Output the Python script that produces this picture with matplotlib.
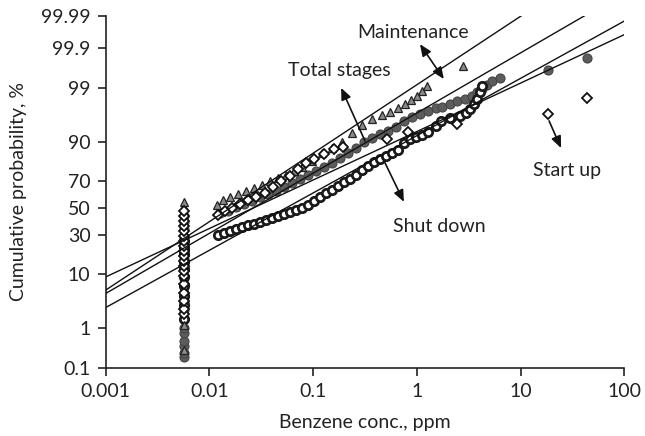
import numpy as np
import matplotlib
matplotlib.use('Agg')
import matplotlib.pyplot as plt
from statistics import NormalDist

plt.rcParams['font.family'] = ['Lato', 'DejaVu Sans']

# concentration used for the non-detects (stacked column)
nd_conc = 0.0057

# Maintenance (triangles)
maint_x = [0.0118, 0.0135, 0.0158, 0.0188, 0.0225, 0.0268, 0.032, 0.0383, 0.0457, 0.0546,
           0.0652, 0.0778, 0.0972, 0.121, 0.151, 0.189, 0.236, 0.295, 0.368, 0.459,
           0.548, 0.655, 0.764, 0.873, 1.0, 1.12, 1.25, 2.77]
maint_p = [52.3, 56.2, 58.4, 60.7, 62.9, 65.1, 67.2, 69.9, 71.9, 73.8,
           76.3, 78.6, 81.8, 85.6, 87.7, 89.9, 92.6, 94.6, 95.7, 96.4,
           96.8, 97.3, 97.8, 98.2, 98.5, 98.8, 99.09, 99.70]
maint_nd_p = [0.3, 1.2, 50.5, 54.5]

# Total stages (grey circles)
total_x = [0.0126, 0.0151, 0.018, 0.0215, 0.0257, 0.0307, 0.0366, 0.0437, 0.0522, 0.0623,
           0.0744, 0.0889, 0.106, 0.127, 0.151, 0.181, 0.216, 0.258, 0.308, 0.368,
           0.439, 0.524, 0.626, 0.748, 0.893, 1.07, 1.27, 1.52, 1.74, 2.08,
           2.42, 2.89, 3.38, 3.78, 4.22, 4.71, 5.27, 6.29, 18.2, 43.4]
total_p = [46.1, 47.7, 50.8, 53.1, 55.4, 58.4, 60.7, 62.9, 65.8, 68.6,
           71.3, 73.8, 76.3, 78.6, 80.8, 83.3, 85.6, 87.7, 89.9, 91.2,
           92.4, 93.2, 94.1, 95.4, 96.1, 96.5, 97.0, 97.3, 97.5, 97.8,
           98.1, 98.25, 98.5, 98.76, 98.93, 99.13, 99.30, 99.40, 99.62, 99.81]
total_nd_p = [0.2, 0.25, 0.38, 0.5, 0.78, 1.0, 1.6, 2.4, 3.5, 5, 7, 9.5, 12.5, 16,
              20, 24.5, 29, 34, 39, 44]

# Start up (diamonds)
start_x = [0.0121, 0.0141, 0.0165, 0.0197, 0.0235, 0.0281, 0.0343, 0.0409, 0.0489, 0.0597,
           0.0712, 0.0851, 0.102, 0.127, 0.158, 0.193, 0.513, 0.817, 2.42, 18.2, 43.4]
start_p = [44.6, 47.7, 50.0, 53.1, 56.2, 58.4, 61.4, 65.8, 69.9, 73.2,
           77.5, 80.8, 82.8, 85.2, 87.3, 88.1, 90.9, 92.9, 94.8, 96.5, 98.3]
start_nd_p = [2.0, 2.5, 3.6, 5.0, 7.1, 9.4, 11.2, 13.1, 15.3, 17.7, 20.3, 23.1,
              26.1, 29.4, 32.8, 36.4, 40.1, 43.8, 47.7]

# Shut down (open circles)
shut_x = [0.0121, 0.0138, 0.0158, 0.018, 0.0206, 0.0235, 0.0268, 0.0307, 0.035, 0.04,
          0.0457, 0.0522, 0.0597, 0.0681, 0.0778, 0.0889, 0.102, 0.116, 0.133, 0.151,
          0.173, 0.198, 0.226, 0.258, 0.295, 0.337, 0.384, 0.439, 0.502, 0.573,
          0.655, 0.748, 0.854, 0.976, 1.12, 1.27, 1.52, 1.7, 2.08, 2.59,
          2.96, 3.23, 3.53, 3.78, 4.04, 4.22]
shut_p = [30.1, 31.4, 32.8, 34.2, 35.6, 37.1, 37.9, 39.3, 40.8, 42.3,
          43.8, 45.4, 46.9, 48.5, 50.0, 52.3, 55.4, 58.4, 61.4, 63.6,
          66.5, 69.3, 71.3, 73.8, 76.9, 79.2, 81.3, 82.8, 84.3, 85.6,
          86.9, 89.6, 90.9, 91.5, 92.1, 92.9, 94.4, 95.4, 95.9, 96.2,
          96.7, 97.2, 97.8, 98.25, 98.76, 99.09]
shut_nd_p = [1.6, 3, 4.5, 6.5, 9, 12, 15, 18.5, 22, 26]

# fitted lognormal lines (two points each)
maint_fit_x, maint_fit_p = [0.001, 10.2], [5.6, 99.99]
total_fit_x, total_fit_p = [0.001, 41.5], [4.9, 99.99]
start_fit_x, start_fit_p = [0.001, 100], [9.1, 99.96]
shut_fit_x, shut_fit_p = [0.001, 100], [2.7, 99.985]

x_ticks = [0.001, 0.01, 0.1, 1, 10, 100]
x_labels = ['0.001', '0.01', '0.1', '1', '10', '100']
y_ticks = [0.1, 1, 10, 30, 50, 70, 90, 99, 99.9, 99.99]
y_labels = ['0.1', '1', '10', '30', '50', '70', '90', '99', '99.9', '99.99']

_nd = NormalDist()
_ppf = np.vectorize(_nd.inv_cdf, otypes=[float])
_cdf = np.vectorize(_nd.cdf, otypes=[float])


def prob_fwd(p):
    p = np.clip(np.asarray(p, dtype=float) / 100.0, 1e-12, 1 - 1e-12)
    return _ppf(p)


def prob_inv(z):
    return _cdf(np.asarray(z, dtype=float)) * 100.0


fig = plt.figure(figsize=(6.45, 4.36), dpi=100)
ax = fig.add_axes([0.1639, 0.1567, 0.8040, 0.8073])
ax.set_xscale('log')
ax.set_yscale('function', functions=(prob_fwd, prob_inv))

# points
ax.plot(total_x + [nd_conc] * len(total_nd_p), total_p + total_nd_p, 'o', ms=6.5,
        mfc='#5c5c5c', mec='#444444', mew=0.8, zorder=2)
ax.plot(shut_x + [nd_conc] * len(shut_nd_p), shut_p + shut_nd_p, 'o', ms=6,
        mfc='white', mec='#1a1a1a', mew=2.0, zorder=2.1)
ax.plot(maint_x + [nd_conc] * len(maint_nd_p), maint_p + maint_nd_p, '^', ms=6,
        mfc='#8a8a8a', mec='#222222', mew=0.9, zorder=2.2)
ax.plot(start_x + [nd_conc] * len(start_nd_p), start_p + start_nd_p, 'D', ms=5.5,
        mfc='white', mec='#111111', mew=1.3, zorder=2.3)

# fit lines
for fx, fp in [(maint_fit_x, maint_fit_p), (total_fit_x, total_fit_p),
               (start_fit_x, start_fit_p), (shut_fit_x, shut_fit_p)]:
    ax.plot(fx, fp, '-', color='#111111', lw=1.0, zorder=3)

ax.set_xlim(0.001, 100)
ax.set_ylim(0.1, 99.99)
ax.set_xticks(x_ticks)
ax.set_xticklabels(x_labels)
ax.set_yticks(y_ticks)
ax.set_yticklabels(y_labels)
ax.minorticks_off()
ax.tick_params(direction='out', length=6, width=1.2, labelsize=14, pad=5, colors='#222222')

for s in ['top', 'right']:
    ax.spines[s].set_visible(False)
for s in ['left', 'bottom']:
    ax.spines[s].set_linewidth(1.2)
    ax.spines[s].set_color('#222222')

ax.set_xlabel('Benzene conc., ppm', fontsize=14, labelpad=10, color='#222222')
ax.set_ylabel('Cumulative probability, %', fontsize=14, labelpad=10, color='#222222')

# labels and arrows
arrow = dict(arrowstyle='-|>,head_length=0.7,head_width=0.3', color='#111111', lw=1.2,
             shrinkA=0, shrinkB=0)
ax.text(0.593, 0.953, 'Maintenance', transform=ax.transAxes, fontsize=14,
        ha='center', va='center', color='#222222')
ax.annotate('', xy=(0.606, 0.919), xytext=(0.652, 0.820), xycoords='axes fraction',
            arrowprops=dict(arrow, arrowstyle='<|-|>,head_length=0.7,head_width=0.3'))
ax.text(0.450, 0.845, 'Total stages', transform=ax.transAxes, fontsize=14,
        ha='center', va='center', color='#222222')
ax.annotate('', xy=(0.454, 0.795), xytext=(0.500, 0.644), xycoords='axes fraction',
            arrowprops=arrow)
ax.text(0.890, 0.561, 'Start up', transform=ax.transAxes, fontsize=14,
        ha='center', va='center', color='#222222')
ax.annotate('', xy=(0.878, 0.624), xytext=(0.855, 0.701), xycoords='axes fraction',
            arrowprops=arrow)
ax.text(0.643, 0.400, 'Shut down', transform=ax.transAxes, fontsize=14,
        ha='center', va='center', color='#222222')
ax.annotate('', xy=(0.575, 0.471), xytext=(0.533, 0.599), xycoords='axes fraction',
            arrowprops=arrow)

fig.savefig('out.png', dpi=100)
